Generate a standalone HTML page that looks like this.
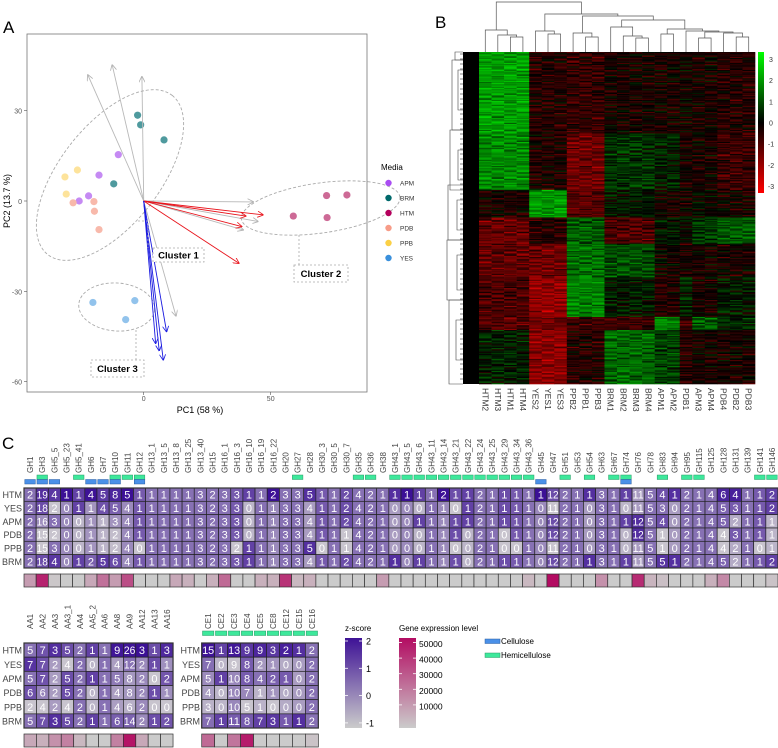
<!DOCTYPE html>
<html><head><meta charset="utf-8">
<style>
html,body{margin:0;padding:0;background:#fff;}
svg{display:block;font-family:"Liberation Sans",sans-serif;}
</style></head>
<body>
<svg id="fig" width="778" height="748" viewBox="0 0 778 748" xmlns="http://www.w3.org/2000/svg">
<defs>
<linearGradient id="gz" x1="0" y1="0" x2="0" y2="1"><stop offset="0" stop-color="#3e1296"/><stop offset="1" stop-color="#cbcbcb"/></linearGradient>
<linearGradient id="gp" x1="0" y1="0" x2="0" y2="1"><stop offset="0" stop-color="#b30c62"/><stop offset="1" stop-color="#cbcbcb"/></linearGradient>
<linearGradient id="grg" x1="0" y1="0" x2="0" y2="1"><stop offset="0" stop-color="#00ff00"/><stop offset="0.5" stop-color="#000"/><stop offset="1" stop-color="#ff0000"/></linearGradient>
<marker id="ag" viewBox="0 0 10 10" refX="9" refY="5" markerWidth="7" markerHeight="7" orient="auto"><path d="M0,0 L10,5 L0,10" fill="none" stroke="#b0b0b0" stroke-width="1.3"/></marker>
<marker id="ar" viewBox="0 0 10 10" refX="9" refY="5" markerWidth="7" markerHeight="7" orient="auto"><path d="M0,0 L10,5 L0,10" fill="none" stroke="#e8141c" stroke-width="1.3"/></marker>
<marker id="ab" viewBox="0 0 10 10" refX="9" refY="5" markerWidth="7" markerHeight="7" orient="auto"><path d="M0,0 L10,5 L0,10" fill="none" stroke="#1a1ae0" stroke-width="1.3"/></marker>
</defs>
<text x="3" y="33" font-size="17">A</text>
<text x="435" y="28" font-size="17">B</text>
<text x="2" y="449" font-size="17">C</text>
<g id="pa"></g>
<g id="pb"></g>
<g id="pc"></g>
</svg>
<script>
const NS="http://www.w3.org/2000/svg";
function mk(p,tag,at,txt){const e=document.createElementNS(NS,tag);for(const k in at)e.setAttribute(k,at[k]);if(txt!==undefined)e.textContent=txt;p.appendChild(e);return e;}

/* ---------- Panel A data ---------- */
const pcaGroups=["APM","BRM","HTM","PDB","PPB","YES"];
const pcaColors=["#c58af3","#4f9a9e","#cd6a96","#f8b9ab","#fde39b","#92c3ec"];
const legendColors=["#a94df2","#00696b","#b4005c","#f79c88","#fbd045","#3a90dc"];
const pcaX=[-10,-17.6,-21.7,-25.4, -2.4,-1.2,8,-11.8, 58.9,72,80,72.2, -27.8,-19.6,-19.4,-17.6, -31,-26.1,-30.5, -20,-3.5,-7.1];
const pcaY=[15.4,8.6,1.7,0, 28.5,25.3,20.3,5.7, -5,1.8,2,-5.5, -0.6,-0.2,-3.4,-9.5, 8,10.3,2.3, -33.7,-33.1,-39.4];
const pcaG=[0,0,0,0,1,1,1,1,2,2,2,2,3,3,3,3,4,4,4,5,5,5];
const arrowX=[-22,-12.4,-0.7,43.1,45,39.2,12.7, 47,40.2,38.6,37.5, 4.7,6.1,7.7,9];
const arrowY=[41.9,45.2,41.3,-0.3,-6.8,-9.6,-38.2, -4.6,-5,-8.5,-20.7, -47.3,-49.7,-52.8,-43.4];
const arrowType=["g","g","g","g","g","g","g","r","r","r","r","b","b","b","b"];
const xTicks=[0,50], yTicks=[30,0,-30,-60];

(function(){
 const g=document.getElementById('pa');
 const px=v=>143.7+v*2.54, py=v=>201-v*3.01;
 const box=mk(g,'rect',{x:27,y:34,width:340,height:358,fill:'none',stroke:'#777','stroke-width':0.8});
 
 yTicks.forEach(t=>{mk(g,'line',{x1:24,x2:27,y1:py(t),y2:py(t),stroke:'#555','stroke-width':0.6});
  const e=mk(g,'text',{x:22,y:py(t)+3,'font-size':7,fill:'#555','text-anchor':'end'},String(t));});
 xTicks.forEach(t=>{mk(g,'line',{x1:px(t),x2:px(t),y1:392,y2:395,stroke:'#555','stroke-width':0.6});
  const e=mk(g,'text',{x:px(t),y:401,'font-size':7,fill:'#555','text-anchor':'middle'},String(t));});
 let e=mk(g,'text',{x:200,y:413,'font-size':9,'text-anchor':'middle'},'PC1 (58 %)');
 e=mk(g,'text',{x:10,y:201,'font-size':9,'text-anchor':'middle',transform:'rotate(-90 10 201)'},'PC2 (13.7 %)');
 const ell=[[110,175,101,50,-52],[320.7,208,80,25,-8],[116.7,307,38,24,4]];
 ell.forEach(a=>{const el=mk(g,'ellipse',{cx:a[0],cy:a[1],rx:a[2],ry:a[3],transform:`rotate(${a[4]} ${a[0]} ${a[1]})`,fill:'none',stroke:'#aaa','stroke-width':0.9,'stroke-dasharray':'3 2'});});
 pcaX.forEach((v,i)=>{const c=mk(g,'circle',{cx:px(v),cy:py(pcaY[i]),r:3.6,fill:pcaColors[pcaG[i]]});});
 const col={g:'#b8b8b8',r:'#e8141c',b:'#1a1ae0'};
 arrowX.forEach((v,i)=>{const t=arrowType[i];const l=mk(g,'line',{x1:px(0),y1:py(0),x2:px(v),y2:py(arrowY[i]),stroke:col[t],'stroke-width':0.9,'marker-end':`url(#a${t})`});});
 const cl=[["Cluster 1",153,248,51,14,[[138,221,148,248]]],["Cluster 2",294,265,54,17,[[299,235,299,265]]],["Cluster 3",91,360,53,17,[[136,330,136,360]]]];
 cl.forEach(c=>{c[5].forEach(s=>mk(g,'polyline',{points:`${s[0]},${s[1]} ${s[2]},${s[1]} ${s[2]},${s[3]}`,fill:'none',stroke:'#aaa','stroke-width':0.8,'stroke-dasharray':'2 2'}));
  const r=mk(g,'rect',{x:c[1],y:c[2],width:c[3],height:c[4],fill:'#fff',stroke:'#aaa','stroke-width':0.8,'stroke-dasharray':'2 2'});
  const t=mk(g,'text',{x:c[1]+c[3]/2,y:c[2]+c[4]/2+3.5,'font-size':9.5,'font-weight':'bold','text-anchor':'middle'},c[0]);});
 e=mk(g,'text',{x:381,y:170,'font-size':8},'Media');
 pcaGroups.forEach((n,i)=>{const y=183+i*15;const c=mk(g,'circle',{cx:388.5,cy:y,r:3.2,fill:legendColors[i]});
  const t=mk(g,'text',{x:400,y:y+2.5,'font-size':6.5,fill:'#333'},n);});
})();

/* ---------- Panel B data ---------- */
const sampleLabels=["HTM2","HTM3","HTM1","HTM4","YES2","YES1","YES3","PPB2","PPB1","PPB3","BRM1","BRM2","BRM3","BRM4","APM1","APM2","PDB1","APM3","APM4","PDB4","PDB2","PDB3"];
const sampleGroup=[0,0,0,0,1,1,1,2,2,2,3,3,3,3,4,4,5,6,6,7,7,7];
const segmentEnds=[0.245,0.416,0.497,0.577,0.678,0.798,0.839,1.0];
const seg1=[2.3,-0.5,-0.7,-0.3,-0.3,-0.2,-0.3,-0.5];
const seg2=[2.0,-0.4,-1.5,0.7,0.4,-0.3,-0.3,-0.8];
const seg3=[-0.3,2.2,-1.2,0.3,-0.3,-0.3,0,-0.3];
const seg4=[-1.4,-0.5,1.3,-1.1,0.3,0,0.8,1.3];
const seg5=[-1.3,-1.5,1.6,1.1,-0.2,-0.3,-0.3,-0.3];
const seg6=[-1.0,-2.0,1.9,0.3,-0.5,0.5,-0.3,0.3];
const seg7=[-1.2,-1.5,-0.8,-0.8,1.9,-1.0,1.4,0.5];
const seg8=[0.4,-1.9,-0.5,1.5,0.9,-0.5,-0.3,-0.3];
const segs=[seg1,seg2,seg3,seg4,seg5,seg6,seg7,seg8];
const textureJitter=[0,0.5,-0.4,0.25,-0.6,0.35,-0.15,0.6,-0.3,0.1,-0.5,0.45,-0.2];
const rowTexture=[0.3,-0.5,0.1,0.6,-0.2,-0.7,0.4,0,-0.35,0.55,-0.1,0.2,-0.6,0.45,-0.25,0.05,0.35];
const colorbarTicks=[3,2,1,0,-1,-2,-3];

(function(){
 const g=document.getElementById('pb');
 const X0=479,X1=755,Y0=52,Y1=384,nc=sampleLabels.length,cw=(X1-X0)/nc;
 const rows=277,rh=(Y1-Y0)/rows;
 function col(v){v=Math.max(-3.5,Math.min(3.5,v));if(v>=0)return`rgb(0,${Math.round(v/3.8*255)},0)`;return`rgb(${Math.round(-v/3.5*255)},0,0)`;}
 for(let r=0;r<rows;r++){const f=(r+0.5)/rows;let s=0;while(f>segmentEnds[s])s++;
  for(let c=0;c<nc;c++){const v=segs[s][sampleGroup[c]]+textureJitter[(r*5+c*3+((r*r)%7))%13]*0.9+rowTexture[(r+c*2)%17]*0.8;
   const e=mk(g,'rect',{x:X0+c*cw,y:Y0+r*rh,width:cw+0.3,height:rh+0.3,fill:col(v)});
   
   }}
 sampleLabels.forEach((l,i)=>{const x=X0+(i+0.5)*cw-3;const t=mk(g,'text',{x:x,y:388,'font-size':8.5,fill:'#333',transform:`rotate(90 ${x} 388)`},l);});
 const tree=[2,[30,0,[35,1,[37,2,3]]],[14,[31,4,[34,5,6]],[16,[33,7,[37,8,9]],[20,[27,10,[36,11,[38,12,13]]],[29,[34,14,15],[31,16,[32,[38,17,18],[33,19,[37,20,21]]]]]]]]];
 function draw(n){if(typeof n==='number')return{x:X0+(n+0.5)*cw,y:Y0};const a=draw(n[1]),b=draw(n[2]);const h=n[0];
  mk(g,'polyline',{points:`${a.x},${a.y} ${a.x},${h} ${b.x},${h} ${b.x},${b.y}`,fill:'none',stroke:'#555','stroke-width':0.7});return{x:(a.x+b.x)/2,y:h};}
 draw(tree);
 const rd=mk(g,'g',{});
 mk(rd,'rect',{x:463,y:Y0,width:16,height:Y1-Y0,fill:'#000'});
 const br=[[52,60,455],[60,130,452],[130,190,450],[185,240,448],[240,300,447],[300,384,449],[70,110,458],[150,180,458],[200,230,457],[255,290,457],[320,360,456]];
 br.forEach(b=>{mk(rd,'polyline',{points:`463,${b[0]} ${b[2]},${b[0]} ${b[2]},${b[1]} 463,${b[1]}`,fill:'none',stroke:'#444','stroke-width':0.6});});
 for(let y=54;y<384;y+=5){mk(rd,'line',{x1:457+((y*7)%5),x2:463,y1:y,y2:y,stroke:'#333','stroke-width':0.6});}
 const cb=mk(g,'rect',{x:758,y:52,width:6,height:141,fill:'url(#grg)'});
 colorbarTicks.forEach(t=>{const y=52+7+(3-t)*(127/6);const e=mk(g,'text',{x:771,y:y+3,'font-size':7,fill:'#333','text-anchor':'middle'},String(t));});
})();

/* ---------- Panel C data ---------- */
const ghNames=["GH1","GH3","GH5_5","GH5_23","GH5_41","GH6","GH7","GH10","GH11","GH12","GH13_1","GH13_5","GH13_8","GH13_25","GH13_40","GH15","GH16_1","GH16_3","GH16_10","GH16_19","GH16_22","GH20","GH27","GH28","GH30_3","GH30_5","GH30_7","GH35","GH36","GH38","GH43_1","GH43_5","GH43_6","GH43_11","GH43_14","GH43_21","GH43_22","GH43_24","GH43_25","GH43_29","GH43_34","GH43_36","GH45","GH47","GH51","GH53","GH54","GH63","GH67","GH74","GH76","GH78","GH83","GH94","GH95","GH115","GH125","GH128","GH131","GH139","GH141","GH146"];
const rowNames=["HTM","YES","APM","PDB","PPB","BRM"];
const ghHTM=[2,19,4,1,1,4,5,8,5,1,1,1,1,1,3,2,3,3,1,1,2,3,3,5,1,1,2,4,2,1,1, 1,1,1,2,1,1,2,1,1,1,1,1,12,2,1,1,3,1,1,11,5,4,1,2,1,4,6,4,1,1,2];
const ghYES=[2,18,2,0,1,1,4,5,4,1,1,1,1,1,3,2,3,3,0,1,1,3,3,4,1,1,2,4,2,1,0, 0,0,1,1,0,1,2,1,1,1,1,0,11,2,1,0,3,1,0,11,5,3,0,2,1,4,5,3,1,1,2];
const ghAPM=[2,16,3,0,0,1,1,3,4,1,1,1,1,1,3,2,3,3,0,1,1,3,3,4,1,1,2,4,2,1,0, 0,1,1,1,1,1,2,1,1,1,1,0,12,2,1,0,3,1,1,12,5,4,0,2,1,4,5,2,1,1,1];
const ghPDB=[2,15,2,0,0,1,1,2,4,1,1,1,1,1,3,2,3,3,0,1,1,3,3,4,1,1,1,4,2,1,0, 0,0,1,1,1,0,2,1,0,1,1,0,12,2,1,0,3,1,0,12,5,1,0,2,1,4,4,3,1,1,1];
const ghPPB=[2,15,3,0,0,1,1,2,4,0,1,1,1,1,3,2,3,2,1,1,1,3,3,5,0,1,1,4,2,1,0, 0,0,1,1,0,0,2,1,0,0,1,0,11,2,1,0,3,1,0,11,5,1,0,2,1,4,4,2,1,0,1];
const ghBRM=[2,18,4,0,1,2,5,6,4,1,1,1,1,1,3,2,3,3,1,1,1,3,3,4,1,1,2,4,2,1,1, 0,1,1,1,1,0,2,1,1,1,1,0,12,2,1,1,3,1,1,11,5,5,1,2,1,4,5,2,1,1,2];
const ghExpr=[15000,46000,4000,3000,3000,12000,26000,15000,35000,3000,3000,3000,12000,10000,3000,10000,28000,3000,3000,10000,10000,42000,8000,10000,3000,3000,3000,3000,3000,15000,3000, 3000,3000,3000,3000,3000,3000,3000,3000,3000,3000,8000,3000,52000,3000,3000,3000,18000,3000,3000,44000,9000,6000,3000,3000,3000,10000,20000,3000,3000,3000,5000];
const ghCellulose=["GH1","GH3","GH5_5","GH6","GH7","GH10","GH12","GH45","GH74"];
const ghHemi=["GH3","GH5_41","GH10","GH11","GH12","GH27","GH35","GH36","GH43_1","GH43_5","GH43_6","GH43_11","GH43_14","GH43_21","GH43_22","GH43_24","GH43_25","GH43_29","GH43_34","GH43_36","GH51","GH54","GH67","GH74","GH83","GH95","GH115","GH141","GH146"];
const aaNames=["AA1","AA2","AA3","AA3_1","AA4","AA5_2","AA6","AA8","AA9","AA12","AA13","AA16"];
const aaHTM=[5,7,3,5,2,1,1,9,26,3,1,3];
const aaYES=[7,7,2,4,2,0,1,4,12,2,1,1];
const aaAPM=[5,7,2,5,2,1,1,5,8,2,0,2];
const aaPDB=[6,6,2,5,2,0,1,4,8,2,1,1];
const aaPPB=[2,4,2,4,2,0,1,4,6,2,0,0];
const aaBRM=[5,7,3,5,2,1,1,6,14,2,1,2];
const aaExpr=[12000,10000,18000,22000,8000,3000,3000,22000,50000,12000,3000,3000];
const ceNames=["CE1","CE2","CE3","CE4","CE5","CE8","CE12","CE15","CE16"];
const ceHTM=[15,1,13,9,9,3,2,1,2];
const ceYES=[7,0,9,8,2,1,0,0,2];
const ceAPM=[5,1,10,8,4,2,1,0,2];
const cePDB=[4,0,10,7,1,1,0,0,2];
const cePPB=[3,0,10,5,1,0,0,0,2];
const ceBRM=[7,1,11,8,7,3,1,1,2];
const ceExpr=[28000,3000,25000,48000,3000,3000,3000,3000,5000];
const ceHemi=["CE1","CE2","CE3","CE4","CE5","CE8","CE12","CE15","CE16"];
const zTicks=[2,1,0,-1];
const exprTicks=[50000,40000,30000,20000,10000];

(function(){
 const g=document.getElementById('pc');
 function lerp(a,b,t){return a.map((v,i)=>Math.round(v+(b[i]-v)*t));}
 function zcol(z){const t=Math.pow(Math.max(0,Math.min(1,(z+1)/3)),0.7);const c=lerp([200,196,206],[60,16,150],t);return`rgb(${c})`;}
 function ecol(v){const t=Math.max(0,Math.min(1,(v-3000)/49000));const c=lerp([203,203,203],[179,12,98],t);return`rgb(${c})`;}
 function block(names,rows,expr,x0,y0,cw,rh,labY,barY,hemi,cell,rowLabX){
  const n=names.length;
  names.forEach((nm,i)=>{const x=x0+(i+0.5)*cw+3;const t=mk(g,'text',{x:x,y:labY,'font-size':8,fill:'#444',transform:`rotate(-90 ${x} ${labY})`},nm);
   if(hemi.indexOf(nm)>=0){const r=mk(g,'rect',{x:x0+i*cw+0.8,y:labY+2,width:cw-1.6,height:4.5,fill:'#3de89b',stroke:'#2a9a66','stroke-width':0.5});}
   if(cell.indexOf(nm)>=0){const r=mk(g,'rect',{x:x0+i*cw+0.8,y:labY+6.5,width:cw-1.6,height:4.5,fill:'#4a90e8',stroke:'#2a5ea0','stroke-width':0.5});}
  });
  for(let c=0;c<n;c++){const vals=rows.map(r=>r[c]);const m=vals.reduce((a,b)=>a+b,0)/vals.length;const sd=Math.sqrt(vals.reduce((a,b)=>a+(b-m)*(b-m),0)/(vals.length-1));
   rows.forEach((r,ri)=>{const z=sd>0?(r[c]-m)/sd:0;const x=x0+c*cw,y=y0+ri*rh;
    const e=mk(g,'rect',{x:x,y:y,width:cw,height:rh,fill:zcol(z),stroke:'#222','stroke-width':0.7});
    
    
    const s=String(r[c]);const at={x:x+cw/2,y:y+rh/2+4,'font-size':11,fill:'#fff','text-anchor':'middle'};if(s.length>1){at.textLength=cw-1;at.lengthAdjust='spacingAndGlyphs';}
    mk(g,'text',at,s);});
   const b=mk(g,'rect',{x:x0+c*cw,y:barY,width:cw,height:13,fill:ecol(expr[c]),stroke:'#333','stroke-width':0.7});
   
   }
  mk(g,'rect',{x:x0,y:y0,width:n*cw,height:rh*rows.length,fill:'none',stroke:'#333','stroke-width':1.2});
  rowNames.forEach((nm,ri)=>{const t=mk(g,'text',{x:rowLabX,y:y0+ri*rh+rh/2+3.5,'font-size':9,fill:'#444','text-anchor':'end'},nm);});
 }
 block(ghNames,[ghHTM,ghYES,ghAPM,ghPDB,ghPPB,ghBRM],ghExpr,24,488,754/62,13.33,473,574,ghHemi,ghCellulose,22);
 block(aaNames,[aaHTM,aaYES,aaAPM,aaPDB,aaPPB,aaBRM],aaExpr,24,643,12.42,14.17,629,734,[],[],22);
 block(ceNames,[ceHTM,ceYES,ceAPM,cePDB,cePPB,ceBRM],ceExpr,201.7,643,12.96,14.17,629,734,ceHemi,[],200);
 let e=mk(g,'text',{x:345,y:631,'font-size':8},'z-score');
 e=mk(g,'rect',{x:345,y:638,width:17,height:90,fill:'url(#gz)'});
 zTicks.forEach(t=>{const y=641+(2-t)*27.3;mk(g,'line',{x1:345,x2:348,y1:y,y2:y,stroke:'#fff','stroke-width':0.8});mk(g,'line',{x1:359,x2:362,y1:y,y2:y,stroke:'#fff','stroke-width':0.8});
  const tt=mk(g,'text',{x:366,y:y+3.5,'font-size':9},String(t));});
 e=mk(g,'text',{x:399,y:631,'font-size':8},'Gene expression level');
 e=mk(g,'rect',{x:399,y:638,width:17,height:90,fill:'url(#gp)'});
 exprTicks.forEach(t=>{const y=645.5+(50000-t)/10000*15.6;mk(g,'line',{x1:399,x2:402,y1:y-3,y2:y-3,stroke:'#fff','stroke-width':0.8});mk(g,'line',{x1:413,x2:416,y1:y-3,y2:y-3,stroke:'#fff','stroke-width':0.8});
  const tt=mk(g,'text',{x:419,y:y+1.5,'font-size':8.5},String(t));});
 e=mk(g,'rect',{x:485,y:639,width:15,height:4.5,fill:'#4a90e8',stroke:'#2a5ea0','stroke-width':0.5});
 e=mk(g,'text',{x:501,y:644,'font-size':8},'Cellulose');
 e=mk(g,'rect',{x:485,y:653,width:15,height:4.5,fill:'#3de89b',stroke:'#2a9a66','stroke-width':0.5});
 e=mk(g,'text',{x:501,y:658,'font-size':8},'Hemicellulose');
})();
</script>
</body></html>
